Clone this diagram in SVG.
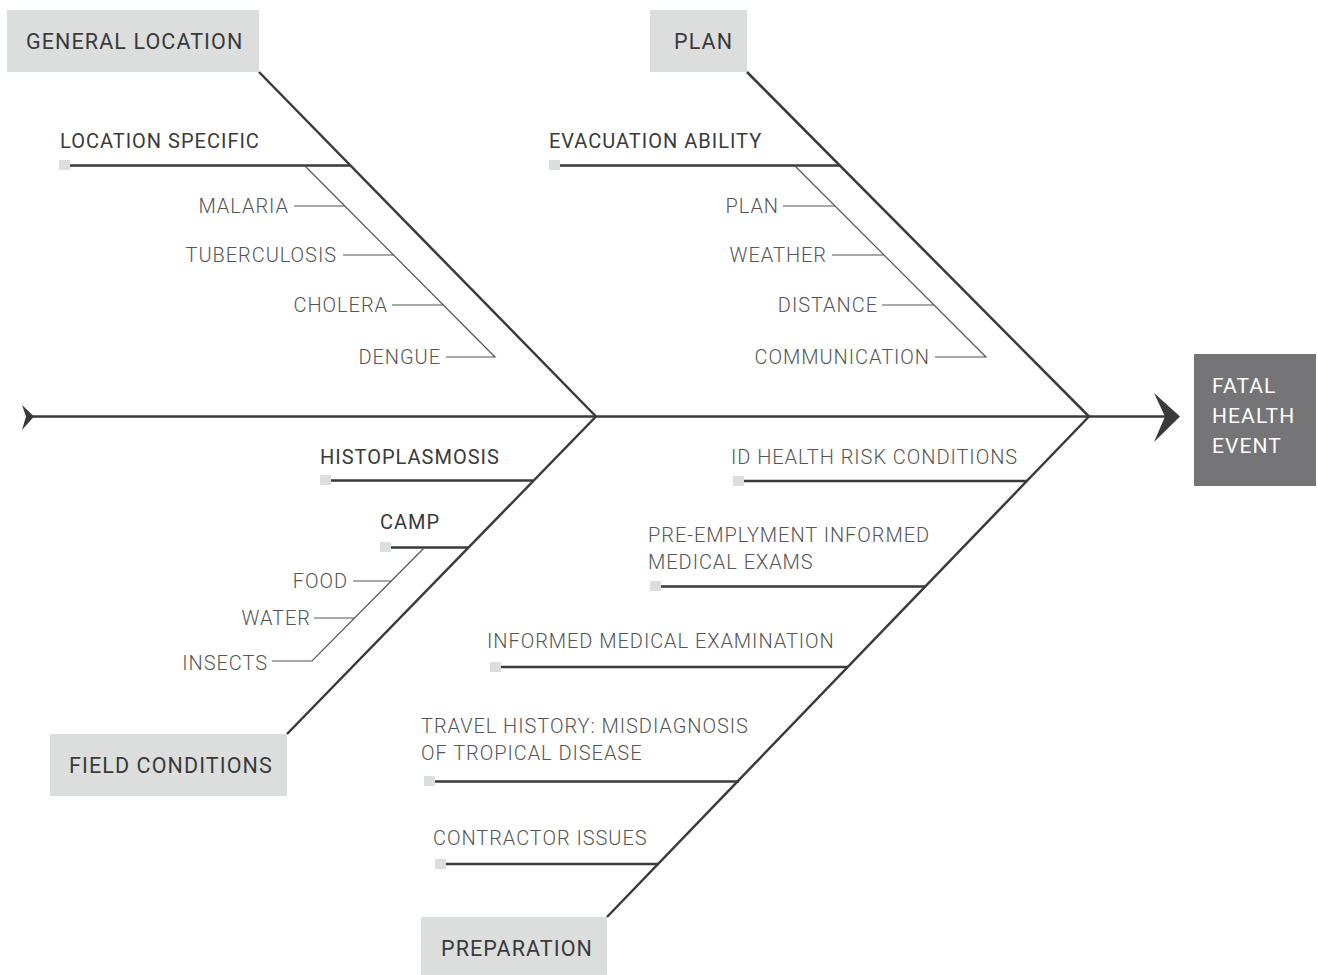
<svg xmlns="http://www.w3.org/2000/svg" width="1318" height="975" viewBox="0 0 1318 975">
<defs>
<style>
.box{fill:#dcdddd}
.b{font-family:Roboto,"Liberation Sans",sans-serif;font-size:21.5px;letter-spacing:1.1px;fill:#3a3a3a}
.t{font-family:Roboto,"Liberation Sans",sans-serif;font-size:20px;letter-spacing:1px;fill:#3a3a3a}
.s{font-family:Roboto,"Liberation Sans",sans-serif;font-size:20px;letter-spacing:0.95px;fill:#555;font-weight:300}
.w{font-family:Roboto,"Liberation Sans",sans-serif;font-size:21px;letter-spacing:1.1px;fill:#fff}
.main{stroke:#3a3a3a;stroke-width:2.5;fill:none}
.br{stroke:#3a3a3a;stroke-width:2.5;fill:none}
.sub{stroke:#555;stroke-width:1.2;fill:none}
.sq{fill:#dcdddd}
</style>
</defs>
<rect width="1318" height="975" fill="#fff"/>
<g id="connectors">
<line class="main" x1="30" y1="416.5" x2="1168" y2="416.5"/>
<path d="M22,405 L34,416.5 L22,430 L26,416.5 Z" fill="#3a3a3a"/>
<path d="M1154,393 L1180,416.5 L1154,442 L1165,416.5 Z" fill="#3a3a3a"/>
<line class="main" x1="259" y1="72" x2="596" y2="416.5"/>
<line class="main" x1="747" y1="72" x2="1089" y2="416.5"/>
<line class="main" x1="287" y1="734" x2="596" y2="416.5"/>
<line class="main" x1="607" y1="917" x2="1089" y2="416.5"/>
<line class="br" x1="70" y1="165.5" x2="350" y2="165.5"/>
<polyline class="sub" points="305,166 495,357 446,357"/>
<line class="sub" x1="294" y1="206" x2="345" y2="206"/>
<line class="sub" x1="343" y1="255" x2="394" y2="255"/>
<line class="sub" x1="392" y1="305" x2="444" y2="305"/>
<line class="br" x1="560" y1="165.5" x2="840" y2="165.5"/>
<polyline class="sub" points="795,166 986,357 935,357"/>
<line class="sub" x1="783" y1="206" x2="835" y2="206"/>
<line class="sub" x1="832" y1="255" x2="884" y2="255"/>
<line class="sub" x1="882" y1="305" x2="934" y2="305"/>
<line class="br" x1="331" y1="480.5" x2="533" y2="480.5"/>
<line class="br" x1="391" y1="547.5" x2="469" y2="547.5"/>
<polyline class="sub" points="424,548 312,661 272,661"/>
<line class="sub" x1="353" y1="581" x2="391" y2="581"/>
<line class="sub" x1="314" y1="618" x2="354" y2="618"/>
<line class="br" x1="744" y1="481" x2="1027" y2="481"/>
<line class="br" x1="661" y1="586.5" x2="925" y2="586.5"/>
<line class="br" x1="501" y1="667" x2="848" y2="667"/>
<line class="br" x1="435" y1="781.5" x2="739" y2="781.5"/>
<line class="br" x1="446" y1="864" x2="659" y2="864"/>
</g>
<g id="general-location"><rect class="box" x="7" y="10" width="252" height="62"/><text class="b" x="26" y="49">GENERAL LOCATION</text></g>
<g id="plan"><rect class="box" x="650" y="10" width="97" height="62"/><text class="b" x="674" y="49">PLAN</text></g>
<g id="field-conditions"><rect class="box" x="50" y="734" width="237" height="62"/><text class="b" x="69" y="773">FIELD CONDITIONS</text></g>
<g id="preparation"><rect class="box" x="421" y="917" width="186" height="58"/><text class="b" x="441" y="956">PREPARATION</text></g>
<g id="fatal-health-event"><rect x="1194" y="354" width="122" height="132" fill="#757577"/><text class="w" x="1212" y="393">FATAL</text><text class="w" x="1212" y="423">HEALTH</text><text class="w" x="1212" y="453">EVENT</text></g>
<g id="location-specific"><rect class="sq" x="59" y="160" width="11" height="10"/><text class="t" x="60" y="148">LOCATION SPECIFIC</text></g>
<g id="malaria"><text class="s" x="289" y="213" text-anchor="end">MALARIA</text></g>
<g id="tuberculosis"><text class="s" x="337" y="262" text-anchor="end">TUBERCULOSIS</text></g>
<g id="cholera"><text class="s" x="388" y="312" text-anchor="end">CHOLERA</text></g>
<g id="dengue"><text class="s" x="441" y="364" text-anchor="end">DENGUE</text></g>
<g id="evacuation-ability"><rect class="sq" x="549" y="160" width="11" height="10"/><text class="t" x="549" y="148">EVACUATION ABILITY</text></g>
<g id="plan-sub"><text class="s" x="779" y="213" text-anchor="end">PLAN</text></g>
<g id="weather"><text class="s" x="827" y="262" text-anchor="end">WEATHER</text></g>
<g id="distance"><text class="s" x="878" y="312" text-anchor="end">DISTANCE</text></g>
<g id="communication"><text class="s" x="930" y="364" text-anchor="end">COMMUNICATION</text></g>
<g id="histoplasmosis"><rect class="sq" x="320" y="475" width="11" height="10"/><text class="t" x="320" y="464">HISTOPLASMOSIS</text></g>
<g id="camp"><rect class="sq" x="380" y="542" width="11" height="10"/><text class="t" x="380" y="529">CAMP</text></g>
<g id="food"><text class="s" x="348" y="588" text-anchor="end">FOOD</text></g>
<g id="water"><text class="s" x="311" y="625" text-anchor="end">WATER</text></g>
<g id="insects"><text class="s" x="268" y="670" text-anchor="end">INSECTS</text></g>
<g id="id-health"><rect class="sq" x="733" y="476" width="11" height="10"/><text class="s" x="731" y="464">ID HEALTH RISK CONDITIONS</text></g>
<g id="pre-employment"><rect class="sq" x="650" y="581" width="11" height="10"/><text class="s" x="648" y="542">PRE-EMPLYMENT INFORMED</text><text class="s" x="648" y="569">MEDICAL EXAMS</text></g>
<g id="informed-exam"><rect class="sq" x="490" y="662" width="11" height="10"/><text class="s" x="487" y="648">INFORMED MEDICAL EXAMINATION</text></g>
<g id="travel-history"><rect class="sq" x="424" y="776" width="11" height="10"/><text class="s" x="421" y="733">TRAVEL HISTORY: MISDIAGNOSIS</text><text class="s" x="421" y="760">OF TROPICAL DISEASE</text></g>
<g id="contractor"><rect class="sq" x="435" y="859" width="11" height="10"/><text class="s" x="433" y="845">CONTRACTOR ISSUES</text></g>
</svg>
